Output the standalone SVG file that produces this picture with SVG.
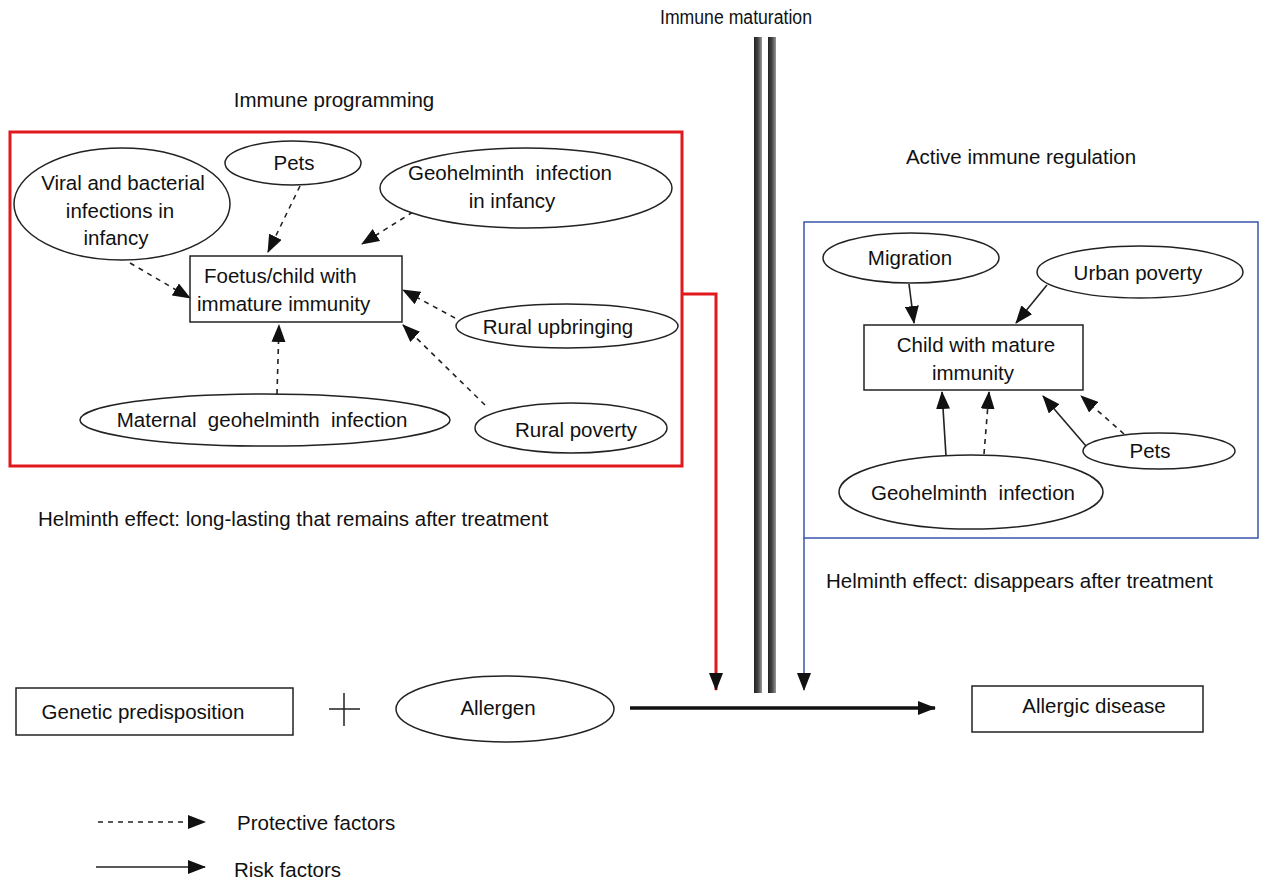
<svg xmlns="http://www.w3.org/2000/svg" width="1264" height="881" viewBox="0 0 1264 881">
<defs>
<style>
text{font-family:"Liberation Sans",Arial,sans-serif;font-size:20.5px;fill:#111;white-space:pre}
.m{text-anchor:middle}
.n{fill:#fff;stroke:#222;stroke-width:1.5}
.d{stroke:#222;stroke-width:1.6;stroke-dasharray:5,5;fill:none;marker-end:url(#ah)}
.s{stroke:#222;stroke-width:1.6;fill:none;marker-end:url(#ah)}
</style>
<marker id="ah" markerUnits="userSpaceOnUse" markerWidth="18" markerHeight="14" viewBox="0 0 18 14" refX="17" refY="7" orient="auto">
<path d="M0,0 L18,7 L0,14 z" fill="#111"/>
</marker>
<linearGradient id="bar" x1="0" y1="0" x2="1" y2="0">
<stop offset="0" stop-color="#222"/>
<stop offset="0.5" stop-color="#444"/>
<stop offset="1" stop-color="#999"/>
</linearGradient>
</defs>
<rect width="1264" height="881" fill="#fff"/>

<text id="t-maturation" x="660" y="24" style="font-size:19.5px" textLength="152" lengthAdjust="spacingAndGlyphs">Immune maturation</text>
<text id="t-programming" class="m" x="334" y="107">Immune programming</text>
<text id="t-active" class="m" x="1021" y="164">Active immune regulation</text>
<text id="t-long" x="38" y="526">Helminth effect: long-lasting that remains after treatment</text>
<text id="t-disappears" x="826" y="588">Helminth effect: disappears after treatment</text>

<g id="maturation-bars">
<rect x="754" y="37" width="8" height="656" fill="url(#bar)"/>
<rect x="768" y="37" width="8" height="656" fill="url(#bar)"/>
</g>

<g id="programming-box"><rect x="10" y="132" width="672" height="334" fill="none" stroke="#e0191c" stroke-width="3"/></g>
<g id="regulation-box"><rect x="804" y="222" width="454" height="316" fill="none" stroke="#3a56a8" stroke-width="1.5"/></g>

<g id="connectors">
<path d="M682,294 H716 V690" fill="none" stroke="#e0191c" stroke-width="3" marker-end="url(#ah)"/>
<path d="M804,538 V690" fill="none" stroke="#3a56a8" stroke-width="1.5" marker-end="url(#ah)"/>
<path class="d" d="M130,263 L190,298"/>
<path class="d" d="M300,186 L268,252"/>
<path class="d" d="M413,212 L362,244"/>
<path class="d" d="M455,318 L403,290"/>
<path class="d" d="M277,394 L279,325"/>
<path class="d" d="M485,405 L403,325"/>
<path class="s" d="M909,284 L914,323"/>
<path class="s" d="M1047,285 L1016,323"/>
<path class="s" d="M946,456 L942,392"/>
<path class="d" d="M984,454 L989,392"/>
<path class="s" d="M1086,446 L1043,396"/>
<path class="d" d="M1124,434 L1081,396"/>
<path d="M630,708 L935,708" fill="none" stroke="#111" stroke-width="3.5" marker-end="url(#ah)"/>
<path class="d" d="M98,822 L205,822"/>
<path class="s" d="M96,867 L205,867"/>
</g>

<g id="viral"><ellipse class="n" cx="122" cy="204" rx="108" ry="56"/>
<text class="m" x="123" y="190">Viral and bacterial</text><text class="m" x="120" y="218">infections in</text><text class="m" x="116" y="245">infancy</text></g>
<g id="pets-left"><ellipse class="n" cx="293" cy="163" rx="68" ry="22"/><text class="m" x="294" y="170">Pets</text></g>
<g id="geo-infancy"><ellipse class="n" cx="526" cy="188" rx="146" ry="40"/>
<text class="m" x="510" y="180">Geohelminth  infection</text><text class="m" x="512" y="208">in infancy</text></g>
<g id="foetus"><rect class="n" x="190" y="256" width="212" height="66"/>
<text x="204" y="283">Foetus/child with</text><text x="197" y="311">immature immunity</text></g>
<g id="rural-upbringing"><ellipse class="n" cx="567" cy="326" rx="111" ry="22"/><text class="m" x="558" y="334">Rural upbringing</text></g>
<g id="maternal"><ellipse class="n" cx="265" cy="420" rx="185" ry="26"/><text class="m" x="262" y="427">Maternal  geohelminth  infection</text></g>
<g id="rural-poverty"><ellipse class="n" cx="571" cy="428" rx="96" ry="25"/><text class="m" x="576" y="437">Rural poverty</text></g>

<g id="migration"><ellipse class="n" cx="911" cy="258" rx="88" ry="25"/><text class="m" x="910" y="265">Migration</text></g>
<g id="urban-poverty"><ellipse class="n" cx="1140" cy="272" rx="103" ry="26"/><text class="m" x="1138" y="280">Urban poverty</text></g>
<g id="child-mature"><rect class="n" x="864" y="325" width="219" height="65"/>
<text class="m" x="976" y="352">Child with mature</text><text class="m" x="973" y="380">immunity</text></g>
<g id="pets-right"><ellipse class="n" cx="1159" cy="451" rx="76" ry="18"/><text class="m" x="1150" y="458">Pets</text></g>
<g id="geo-infection"><ellipse class="n" cx="971" cy="492" rx="132" ry="37"/><text class="m" x="973" y="500">Geohelminth  infection</text></g>

<g id="genetic"><rect class="n" x="16" y="688" width="277" height="47"/><text class="m" x="143" y="719">Genetic predisposition</text></g>
<g id="plus"><path d="M329,709 H360 M344,693 V726" stroke="#222" stroke-width="1.5"/></g>
<g id="allergen"><ellipse class="n" cx="505" cy="709" rx="109" ry="33"/><text class="m" x="498" y="715">Allergen</text></g>
<g id="allergic"><rect class="n" x="972" y="686" width="231" height="46"/><text class="m" x="1094" y="713">Allergic disease</text></g>

<g id="legend">
<text x="237" y="830">Protective factors</text>
<text x="234" y="877">Risk factors</text>
</g>
</svg>
